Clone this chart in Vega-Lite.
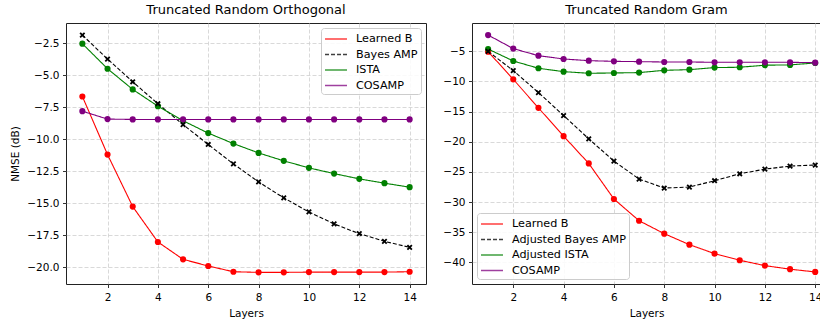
{
  "$schema": "https://vega.github.io/schema/vega-lite/v6.json",
  "padding": {"left": 10, "top": 3, "right": 0, "bottom": 0},
  "spacing": 15,
  "config": {
    "font": "DejaVu Sans",
    "view": {"stroke": "#222", "strokeWidth": 1},
    "title": {"fontSize": 13, "fontWeight": "normal", "font": "DejaVu Sans", "color": "#000", "offset": 6},
    "axis": {
      "domain": false,
      "grid": true,
      "gridColor": "#cfcfcf",
      "gridDash": [4, 2],
      "gridWidth": 0.8,
      "tickColor": "#000",
      "tickSize": 3.5,
      "tickWidth": 0.8,
      "labelFont": "DejaVu Sans",
      "labelFontSize": 10.5,
      "labelColor": "#000",
      "labelPadding": 3.5,
      "titleFont": "DejaVu Sans",
      "titleFontSize": 10.5,
      "titleFontWeight": "normal",
      "titleColor": "#000"
    },
    "axisX": {"labelPadding": 5, "titlePadding": 5},
    "legend": {
      "symbolType": "M-1.57,0L1.57,0",
      "symbolSize": 196,
      "symbolStrokeWidth": 1.5,
      "symbolOpacity": 0.75,
      "symbolOffset": 4,
      "labelOffset": 12,
      "labelFont": "DejaVu Sans",
      "labelFontSize": 11.2,
      "labelColor": "#000",
      "fillColor": "rgba(255,255,255,0.85)",
      "strokeColor": "#cccccc",
      "cornerRadius": 3,
      "padding": 3,
      "rowPadding": 1.5,
      "offset": 5,
      "title": null
    }
  },
  "datasets": {
    "orth": [
      {"method": "Learned B", "layer": 1, "value": -6.65},
      {"method": "Learned B", "layer": 2, "value": -11.2},
      {"method": "Learned B", "layer": 3, "value": -15.27},
      {"method": "Learned B", "layer": 4, "value": -18.04},
      {"method": "Learned B", "layer": 5, "value": -19.4},
      {"method": "Learned B", "layer": 6, "value": -19.92},
      {"method": "Learned B", "layer": 7, "value": -20.37},
      {"method": "Learned B", "layer": 8, "value": -20.42},
      {"method": "Learned B", "layer": 9, "value": -20.42},
      {"method": "Learned B", "layer": 10, "value": -20.4},
      {"method": "Learned B", "layer": 11, "value": -20.4},
      {"method": "Learned B", "layer": 12, "value": -20.4},
      {"method": "Learned B", "layer": 13, "value": -20.4},
      {"method": "Learned B", "layer": 14, "value": -20.37},
      {"method": "Bayes AMP", "layer": 1, "value": -1.85},
      {"method": "Bayes AMP", "layer": 2, "value": -3.72},
      {"method": "Bayes AMP", "layer": 3, "value": -5.5},
      {"method": "Bayes AMP", "layer": 4, "value": -7.22},
      {"method": "Bayes AMP", "layer": 5, "value": -8.85},
      {"method": "Bayes AMP", "layer": 6, "value": -10.41},
      {"method": "Bayes AMP", "layer": 7, "value": -11.93},
      {"method": "Bayes AMP", "layer": 8, "value": -13.34},
      {"method": "Bayes AMP", "layer": 9, "value": -14.59},
      {"method": "Bayes AMP", "layer": 10, "value": -15.69},
      {"method": "Bayes AMP", "layer": 11, "value": -16.63},
      {"method": "Bayes AMP", "layer": 12, "value": -17.39},
      {"method": "Bayes AMP", "layer": 13, "value": -17.99},
      {"method": "Bayes AMP", "layer": 14, "value": -18.46},
      {"method": "ISTA", "layer": 1, "value": -2.52},
      {"method": "ISTA", "layer": 2, "value": -4.48},
      {"method": "ISTA", "layer": 3, "value": -6.1},
      {"method": "ISTA", "layer": 4, "value": -7.41},
      {"method": "ISTA", "layer": 5, "value": -8.55},
      {"method": "ISTA", "layer": 6, "value": -9.52},
      {"method": "ISTA", "layer": 7, "value": -10.34},
      {"method": "ISTA", "layer": 8, "value": -11.07},
      {"method": "ISTA", "layer": 9, "value": -11.69},
      {"method": "ISTA", "layer": 10, "value": -12.24},
      {"method": "ISTA", "layer": 11, "value": -12.69},
      {"method": "ISTA", "layer": 12, "value": -13.1},
      {"method": "ISTA", "layer": 13, "value": -13.44},
      {"method": "ISTA", "layer": 14, "value": -13.75},
      {"method": "COSAMP", "layer": 1, "value": -7.8},
      {"method": "COSAMP", "layer": 2, "value": -8.42},
      {"method": "COSAMP", "layer": 3, "value": -8.45},
      {"method": "COSAMP", "layer": 4, "value": -8.45},
      {"method": "COSAMP", "layer": 5, "value": -8.45},
      {"method": "COSAMP", "layer": 6, "value": -8.45},
      {"method": "COSAMP", "layer": 7, "value": -8.45},
      {"method": "COSAMP", "layer": 8, "value": -8.45},
      {"method": "COSAMP", "layer": 9, "value": -8.45},
      {"method": "COSAMP", "layer": 10, "value": -8.45},
      {"method": "COSAMP", "layer": 11, "value": -8.45},
      {"method": "COSAMP", "layer": 12, "value": -8.45},
      {"method": "COSAMP", "layer": 13, "value": -8.45},
      {"method": "COSAMP", "layer": 14, "value": -8.45}
    ],
    "gram": [
      {"method": "Learned B", "layer": 1, "value": -5.05},
      {"method": "Learned B", "layer": 2, "value": -9.64},
      {"method": "Learned B", "layer": 3, "value": -14.38},
      {"method": "Learned B", "layer": 4, "value": -19.07},
      {"method": "Learned B", "layer": 5, "value": -23.6},
      {"method": "Learned B", "layer": 6, "value": -29.5},
      {"method": "Learned B", "layer": 7, "value": -33.1},
      {"method": "Learned B", "layer": 8, "value": -35.25},
      {"method": "Learned B", "layer": 9, "value": -37.07},
      {"method": "Learned B", "layer": 10, "value": -38.56},
      {"method": "Learned B", "layer": 11, "value": -39.66},
      {"method": "Learned B", "layer": 12, "value": -40.55},
      {"method": "Learned B", "layer": 13, "value": -41.14},
      {"method": "Learned B", "layer": 14, "value": -41.6},
      {"method": "Adjusted Bayes AMP", "layer": 1, "value": -5.0},
      {"method": "Adjusted Bayes AMP", "layer": 2, "value": -8.2},
      {"method": "Adjusted Bayes AMP", "layer": 3, "value": -11.84},
      {"method": "Adjusted Bayes AMP", "layer": 4, "value": -15.65},
      {"method": "Adjusted Bayes AMP", "layer": 5, "value": -19.52},
      {"method": "Adjusted Bayes AMP", "layer": 6, "value": -23.2},
      {"method": "Adjusted Bayes AMP", "layer": 7, "value": -26.19},
      {"method": "Adjusted Bayes AMP", "layer": 8, "value": -27.68},
      {"method": "Adjusted Bayes AMP", "layer": 9, "value": -27.52},
      {"method": "Adjusted Bayes AMP", "layer": 10, "value": -26.47},
      {"method": "Adjusted Bayes AMP", "layer": 11, "value": -25.31},
      {"method": "Adjusted Bayes AMP", "layer": 12, "value": -24.54},
      {"method": "Adjusted Bayes AMP", "layer": 13, "value": -24.04},
      {"method": "Adjusted Bayes AMP", "layer": 14, "value": -23.87},
      {"method": "Adjusted ISTA", "layer": 1, "value": -4.62},
      {"method": "Adjusted ISTA", "layer": 2, "value": -6.6},
      {"method": "Adjusted ISTA", "layer": 3, "value": -7.81},
      {"method": "Adjusted ISTA", "layer": 4, "value": -8.37},
      {"method": "Adjusted ISTA", "layer": 5, "value": -8.64},
      {"method": "Adjusted ISTA", "layer": 6, "value": -8.59},
      {"method": "Adjusted ISTA", "layer": 7, "value": -8.53},
      {"method": "Adjusted ISTA", "layer": 8, "value": -8.15},
      {"method": "Adjusted ISTA", "layer": 9, "value": -8.04},
      {"method": "Adjusted ISTA", "layer": 10, "value": -7.7},
      {"method": "Adjusted ISTA", "layer": 11, "value": -7.64},
      {"method": "Adjusted ISTA", "layer": 12, "value": -7.3},
      {"method": "Adjusted ISTA", "layer": 13, "value": -7.25},
      {"method": "Adjusted ISTA", "layer": 14, "value": -6.93},
      {"method": "COSAMP", "layer": 1, "value": -2.3},
      {"method": "COSAMP", "layer": 2, "value": -4.55},
      {"method": "COSAMP", "layer": 3, "value": -5.72},
      {"method": "COSAMP", "layer": 4, "value": -6.27},
      {"method": "COSAMP", "layer": 5, "value": -6.55},
      {"method": "COSAMP", "layer": 6, "value": -6.66},
      {"method": "COSAMP", "layer": 7, "value": -6.71},
      {"method": "COSAMP", "layer": 8, "value": -6.77},
      {"method": "COSAMP", "layer": 9, "value": -6.77},
      {"method": "COSAMP", "layer": 10, "value": -6.82},
      {"method": "COSAMP", "layer": 11, "value": -6.82},
      {"method": "COSAMP", "layer": 12, "value": -6.82},
      {"method": "COSAMP", "layer": 13, "value": -6.82},
      {"method": "COSAMP", "layer": 14, "value": -6.88}
    ]
  },
  "resolve": {
    "scale": {"color": "independent", "strokeDash": "independent", "x": "independent", "y": "independent"},
    "legend": {"color": "independent", "strokeDash": "independent"}
  },
  "hconcat": [
    {
      "width": 360,
      "height": 261,
      "title": "Truncated Random Orthogonal",
      "data": {"name": "orth"},
      "encoding": {
        "x": {"field": "layer", "type": "quantitative", "scale": {"domain": [0.35, 14.65], "nice": false, "zero": false}, "axis": {"values": [2, 4, 6, 8, 10, 12, 14], "title": "Layers"}},
        "y": {"field": "value", "type": "quantitative", "scale": {"domain": [-21.33, -0.9], "nice": false, "zero": false}, "axis": {"values": [-20, -17.5, -15, -12.5, -10, -7.5, -5, -2.5], "format": ".1f", "title": "NMSE (dB)", "titlePadding": 6}}
      },
      "layer": [
        {
          "mark": {"type": "line", "strokeWidth": 1.1},
          "encoding": {
            "color": {"field": "method", "type": "nominal", "scale": {"domain": ["Learned B", "Bayes AMP", "ISTA", "COSAMP"], "range": ["#ff0000", "#000000", "#008000", "#800080"]}, "legend": {"orient": "top-right", "labelFontSize": 11.2}},
            "strokeDash": {"field": "method", "type": "nominal", "scale": {"domain": ["Learned B", "Bayes AMP", "ISTA", "COSAMP"], "range": [[1, 0], [4, 2], [1, 0], [1, 0]]}, "legend": {"orient": "top-right", "labelFontSize": 11.2}}
          }
        },
        {
          "transform": [{"filter": "datum.method != 'Bayes AMP'"}],
          "mark": {"type": "point", "filled": true, "size": 38, "opacity": 1},
          "encoding": {"color": {"field": "method", "type": "nominal", "legend": null}}
        },
        {
          "transform": [{"filter": "datum.method == 'Bayes AMP'"}],
          "mark": {"type": "point", "shape": "M-1,-1L1,1M-1,1L1,-1", "filled": false, "size": 20, "strokeWidth": 1.8, "color": "#000", "opacity": 1}
        }
      ]
    },
    {
      "width": 349,
      "height": 261,
      "title": "Truncated Random Gram",
      "data": {"name": "gram"},
      "encoding": {
        "x": {"field": "layer", "type": "quantitative", "scale": {"domain": [0.36, 14.23], "nice": false, "zero": false}, "axis": {"values": [2, 4, 6, 8, 10, 12, 14], "title": "Layers"}},
        "y": {"field": "value", "type": "quantitative", "scale": {"domain": [-43.6, -0.3], "nice": false, "zero": false}, "axis": {"values": [-40, -35, -30, -25, -20, -15, -10, -5], "format": "d", "title": null}}
      },
      "layer": [
        {
          "mark": {"type": "line", "strokeWidth": 1.1, "clip": true},
          "encoding": {
            "color": {"field": "method", "type": "nominal", "scale": {"domain": ["Learned B", "Adjusted Bayes AMP", "Adjusted ISTA", "COSAMP"], "range": ["#ff0000", "#000000", "#008000", "#800080"]}, "legend": {"orient": "bottom-left", "labelFontSize": 11.2}},
            "strokeDash": {"field": "method", "type": "nominal", "scale": {"domain": ["Learned B", "Adjusted Bayes AMP", "Adjusted ISTA", "COSAMP"], "range": [[1, 0], [4, 2], [1, 0], [1, 0]]}, "legend": {"orient": "bottom-left", "labelFontSize": 11.2}}
          }
        },
        {
          "transform": [{"filter": "datum.method != 'Adjusted Bayes AMP'"}],
          "mark": {"type": "point", "filled": true, "size": 38, "opacity": 1, "clip": true},
          "encoding": {"color": {"field": "method", "type": "nominal", "legend": null}}
        },
        {
          "transform": [{"filter": "datum.method == 'Adjusted Bayes AMP'"}],
          "mark": {"type": "point", "shape": "M-1,-1L1,1M-1,1L1,-1", "filled": false, "size": 20, "strokeWidth": 1.8, "color": "#000", "opacity": 1, "clip": true}
        }
      ]
    }
  ]
}
